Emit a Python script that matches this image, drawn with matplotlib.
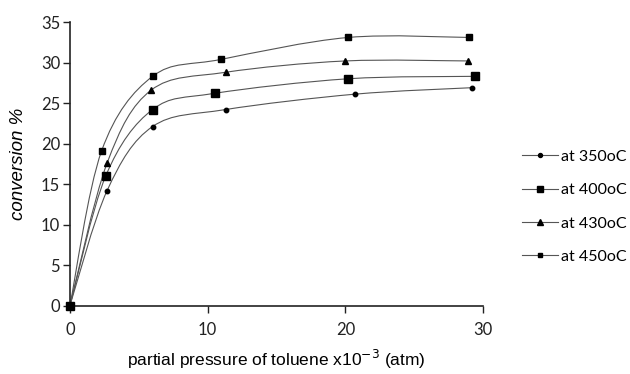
import numpy as np
import matplotlib
matplotlib.use("Agg")
import matplotlib.pyplot as plt
from matplotlib.path import Path
from matplotlib.patches import PathPatch

# values
pressure_350 = [0, 2.7, 6.0, 11.3, 20.7, 29.2]
conv_350 = [0, 14.2, 22.1, 24.2, 26.1, 26.9]
pressure_400 = [0, 2.6, 6.0, 10.5, 20.2, 29.4]
conv_400 = [0, 16.0, 24.2, 26.2, 28.0, 28.3]
pressure_430 = [0, 2.7, 5.9, 11.3, 20.0, 28.9]
conv_430 = [0, 17.6, 26.6, 28.8, 30.2, 30.2]
pressure_450 = [0, 2.3, 6.0, 11.0, 20.2, 29.0]
conv_450 = [0, 19.1, 28.3, 30.4, 33.1, 33.1]

labels = ["at 350oC", "at 400oC", "at 430oC", "at 450oC"]
markers = ["o", "s", "^", "s"]
msizes = [3.2, 5.2, 4.2, 3.8]


def smooth_path(x, y):
    # smoothed line through the points (catmull-rom as cubic bezier)
    p = np.column_stack([x, y]).astype(float)
    verts = [p[0]]
    codes = [Path.MOVETO]
    n = len(p)
    for i in range(n - 1):
        p0 = p[i - 1] if i > 0 else p[i]
        p3 = p[i + 2] if i + 2 < n else p[i + 1]
        c1 = p[i] + (p[i + 1] - p0) / 6.0
        c2 = p[i + 1] - (p3 - p[i]) / 6.0
        verts += [c1, c2, p[i + 1]]
        codes += [Path.CURVE4] * 3
    return Path(verts, codes)


fig = plt.figure(figsize=(6.3, 3.74), dpi=100)
ax = fig.add_axes([0.111, 0.183, 0.656, 0.758])

series = [(pressure_350, conv_350), (pressure_400, conv_400),
          (pressure_430, conv_430), (pressure_450, conv_450)]
for (xs, ys), lab, mk, ms in zip(series, labels, markers, msizes):
    ax.add_patch(PathPatch(smooth_path(xs, ys), facecolor="none",
                           edgecolor="#555555", lw=0.8, zorder=2))
    ax.plot(xs, ys, linestyle="none", marker=mk, ms=ms, color="black", zorder=3,
            clip_on=False)
    ax.plot([], [], color="#555555", lw=0.8, marker=mk, ms=ms * 0.9,
            markerfacecolor="black", markeredgecolor="black", label=lab)

ax.set_xlim(0, 30)
ax.set_ylim(0, 35)
ax.set_xticks([0, 10, 20, 30])
ax.set_yticks(range(0, 36, 5))
for s in ["top", "right"]:
    ax.spines[s].set_visible(False)
for s in ["left", "bottom"]:
    ax.spines[s].set_linewidth(1.2)
    ax.spines[s].set_color("#222222")
ax.tick_params(axis="both", direction="out", length=5, width=1.0,
               labelsize=12, colors="#222222")
for t in ax.get_xticklabels() + ax.get_yticklabels():
    t.set_family("Lato")
ax.tick_params(axis="x", pad=7)
ax.tick_params(axis="y", pad=2)

ax.set_xlabel("partial pressure of toluene x10$^{-3}$ (atm)", family="Liberation Sans",
              fontsize=12.5, labelpad=7)
ax.set_ylabel("conversion %", family="Liberation Sans", style="italic",
              fontsize=13.5, labelpad=10)

leg = ax.legend(loc="center left", bbox_to_anchor=(1.06, 0.348), frameon=False,
                prop={"family": "Lato", "size": 11.5}, handlelength=2.2,
                handletextpad=0.2, labelspacing=1.2)

fig.savefig("out.png", dpi=100)
